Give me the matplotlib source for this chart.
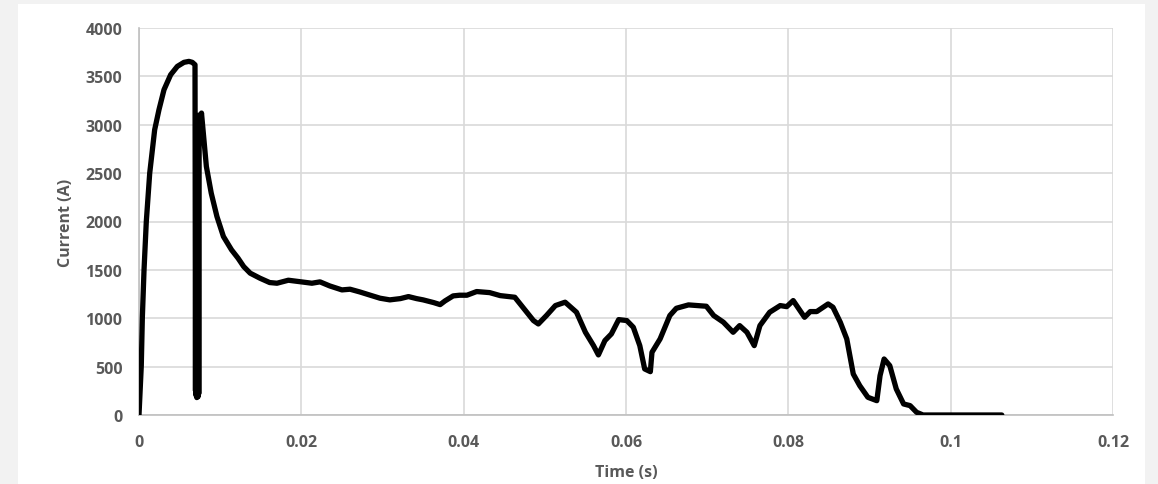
import matplotlib
matplotlib.use('Agg')
import matplotlib.pyplot as plt
from matplotlib.patches import Rectangle

# current trace (time in s, current in A)
time_s = [
    0.0, 0.00028, 0.00041, 0.00062, 0.0009, 0.00132, 0.00193, 0.00246,
    0.00308, 0.0039, 0.00472, 0.00554, 0.00615, 0.00657, 0.0069,
    # fast oscillation right after the peak
    0.00692, 0.00696, 0.0070, 0.00704, 0.00708, 0.00712, 0.00716,
    0.0072, 0.00724, 0.00728, 0.00732, 0.00736, 0.0074, 0.00745,
    0.0077, 0.0083, 0.0089, 0.0096, 0.0104, 0.0114, 0.0122, 0.0129,
    0.0137, 0.0149, 0.0161, 0.0170, 0.0184, 0.0200, 0.0213, 0.0223,
    0.0235, 0.0250, 0.0260, 0.0272, 0.0285, 0.0297, 0.0309, 0.0322,
    0.0332, 0.0342, 0.0350, 0.0363, 0.0371, 0.0377, 0.0387, 0.0395,
    0.0404, 0.0416, 0.0432, 0.0445, 0.0463, 0.0486, 0.0492, 0.0502,
    0.0513, 0.0525, 0.0539, 0.0550, 0.0560, 0.0566, 0.0574, 0.0582,
    0.0591, 0.0601, 0.0609, 0.0617, 0.0623, 0.0630, 0.0632, 0.0642,
    0.0654, 0.0662, 0.0677, 0.0699, 0.0708, 0.0720, 0.0732, 0.0740,
    0.0749, 0.0758, 0.0765, 0.0777, 0.0790, 0.0798, 0.0806, 0.0820,
    0.0827, 0.0835, 0.0849, 0.0855, 0.0864, 0.0872, 0.0880, 0.0888,
    0.0898, 0.0909, 0.0913, 0.0918, 0.0925, 0.0933, 0.0942, 0.0950,
    0.0958, 0.0966, 0.1063,
]
current_a = [
    0, 507, 1000, 1500, 2000, 2500, 2948, 3155,
    3362, 3517, 3603, 3645, 3655, 3645, 3620,
    2600, 250, 2900, 200, 3000, 180, 2800,
    200, 3050, 190, 2950, 220, 3100, 2900,
    3121, 2569, 2293, 2052, 1845, 1707, 1621, 1534,
    1466, 1414, 1369, 1362, 1393, 1376, 1362, 1376,
    1334, 1293, 1300, 1272, 1238, 1207, 1190, 1203,
    1224, 1203, 1190, 1162, 1141, 1179, 1231, 1238,
    1238, 1276, 1265, 1234, 1217, 976, 941, 1028,
    1131, 1166, 1062, 855, 717, 621, 769, 838,
    986, 976, 907, 717, 476, 448, 648, 786,
    1028, 1103, 1138, 1124, 1028, 959, 855, 924,
    855, 717, 924, 1062, 1131, 1120, 1183, 1010,
    1069, 1069, 1148, 1114, 959, 786, 424, 303,
    183, 148, 407, 579, 510, 269, 114, 97,
    28, 0, 0,
]

x_ticks = [0, 0.02, 0.04, 0.06, 0.08, 0.1, 0.12]
x_labels = ['0', '0.02', '0.04', '0.06', '0.08', '0.1', '0.12']
y_ticks = list(range(0, 4001, 500))

plt.rcParams['font.family'] = ['Open Sans', 'DejaVu Sans']
text_grey = '#595959'

fig = plt.figure(figsize=(11.58, 4.85), dpi=100, facecolor='#f2f2f2')
# white chart area inside the grey border
fig.patches.append(Rectangle((18 / 1158, 0), (1145 - 18) / 1158, 480 / 485,
                             transform=fig.transFigure, facecolor='white',
                             edgecolor='none', zorder=-10))
ax = fig.add_axes([139 / 1158, 69 / 485, 974 / 1158, 387 / 485])
ax.set_facecolor('white')

ax.plot(time_s, current_a, color='black', linewidth=3.8,
        solid_joinstyle='round', solid_capstyle='round', zorder=3)

ax.set_xlim(0, 0.12)
ax.set_ylim(0, 4000)
ax.set_xticks(x_ticks)
ax.set_xticklabels(x_labels)
ax.set_yticks(y_ticks)
ax.grid(True, color='#d9d9d9', linewidth=1.2)
ax.set_axisbelow(True)
for side in ['top', 'right']:
    ax.spines[side].set_visible(False)
for side in ['left', 'bottom']:
    ax.spines[side].set_color('#bfbfbf')
    ax.spines[side].set_linewidth(1.2)
ax.tick_params(length=0, labelsize=11.5, labelcolor=text_grey)
ax.tick_params(axis='y', pad=12)
ax.tick_params(axis='x', pad=14)
for lbl in ax.get_xticklabels() + ax.get_yticklabels():
    lbl.set_fontweight('bold')

ax.set_xlabel('Time (s)', fontsize=11.5, fontweight='bold', color=text_grey,
              labelpad=9.5)
ax.set_ylabel('Current (A)', fontsize=11.5, fontweight='bold', color=text_grey,
              labelpad=8)

fig.savefig('out.png', dpi=100, facecolor=fig.get_facecolor())
